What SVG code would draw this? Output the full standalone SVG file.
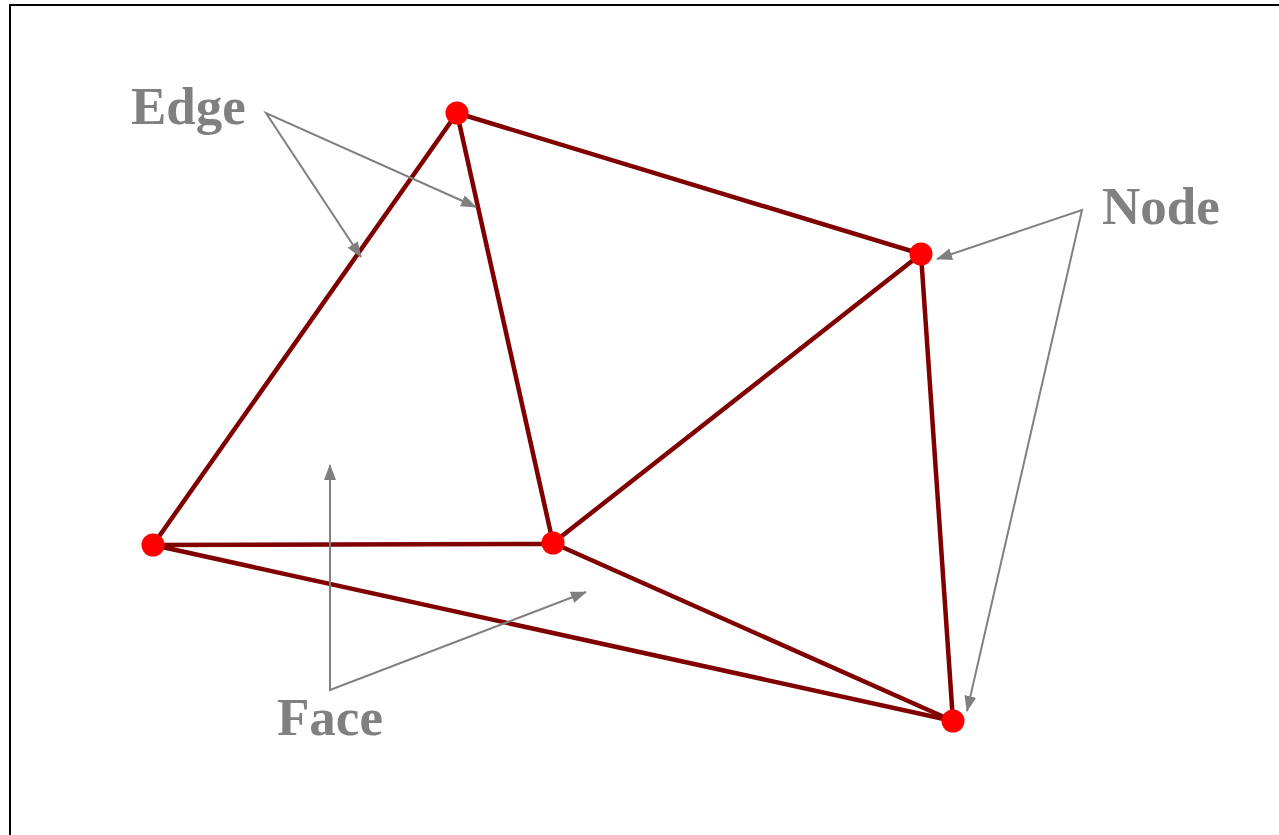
<svg xmlns="http://www.w3.org/2000/svg" width="1279" height="835" viewBox="0 0 1279 835">
<style>
.edge{stroke:#800000;stroke-width:4.5;fill:none;stroke-linecap:round}
.node{fill:#ff0000}
.ptr{stroke:#808080;stroke-width:2;fill:none}
.lbl{font-family:"Liberation Serif",serif;font-weight:bold;font-size:53px;fill:#808080}
</style>
<defs>
<marker id="ah" viewBox="0 0 16 12" refX="15" refY="6" markerWidth="16" markerHeight="12" markerUnits="userSpaceOnUse" orient="auto-start-reverse">
<path d="M0,0 L16,6 L0,12 Z" fill="#808080"/>
</marker>
</defs>
<rect x="0" y="0" width="1279" height="835" fill="#ffffff"/>
<path d="M10,835 V5 H1279" stroke="#000" stroke-width="2" fill="none"/>
<g id="connectors">
<line class="edge" x1="457" y1="113" x2="153" y2="545"/>
<line class="edge" x1="457" y1="113" x2="553" y2="543"/>
<line class="edge" x1="457" y1="113" x2="921" y2="254"/>
<line class="edge" x1="921" y1="254" x2="553" y2="543"/>
<line class="edge" x1="921" y1="254" x2="953" y2="721"/>
<line class="edge" x1="153" y1="545" x2="553" y2="544"/>
<line class="edge" x1="153" y1="545" x2="953" y2="721"/>
<line class="edge" x1="553" y1="543" x2="953" y2="721"/>
<polyline class="ptr" points="361,257 266,113 476,207" marker-start="url(#ah)" marker-end="url(#ah)"/>
<polyline class="ptr" points="937,259 1082,210 967,711" marker-start="url(#ah)" marker-end="url(#ah)"/>
<polyline class="ptr" points="330,465 330,690 586,592" marker-start="url(#ah)" marker-end="url(#ah)"/>
</g>
<g id="n1"><circle class="node" cx="457" cy="113" r="11.5"/></g>
<g id="n2"><circle class="node" cx="921" cy="254" r="11.5"/></g>
<g id="n3"><circle class="node" cx="153" cy="545" r="11.5"/></g>
<g id="n4"><circle class="node" cx="553" cy="543" r="11.5"/></g>
<g id="n5"><circle class="node" cx="953" cy="721" r="11.5"/></g>
<g id="label-edge"><text class="lbl" x="131" y="124">Edge</text></g>
<g id="label-node"><text class="lbl" x="1102" y="224">Node</text></g>
<g id="label-face"><text class="lbl" x="277" y="735">Face</text></g>
</svg>
